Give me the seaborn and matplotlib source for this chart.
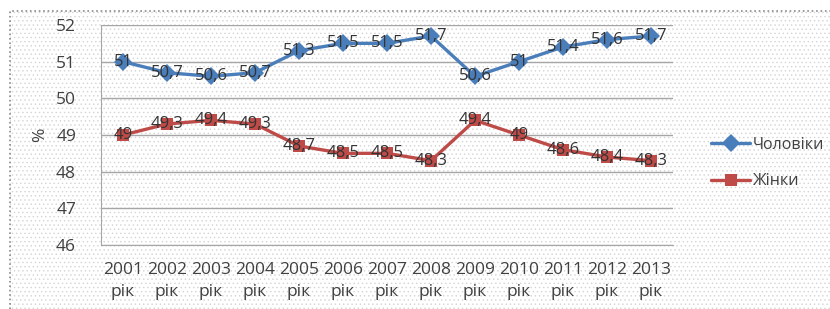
import pandas as pd
import matplotlib.pyplot as plt
import seaborn as sns
from matplotlib.patches import Rectangle

# Data
years = ['2001', '2002', '2003', '2004', '2005', '2006', '2007',
         '2008', '2009', '2010', '2011', '2012', '2013']
men = [51, 50.7, 50.6, 50.7, 51.3, 51.5, 51.5, 51.7, 50.6, 51, 51.4, 51.6, 51.7]
women = [49, 49.3, 49.4, 49.3, 48.7, 48.5, 48.5, 48.3, 49.4, 49, 48.6, 48.4, 48.3]
series_names = ['Чоловіки', 'Жінки']
tick_labels = [y + '\nрік' for y in years]

sns.set_style('white')
plt.rcParams['font.family'] = ['Open Sans', 'DejaVu Sans']
plt.rcParams['hatch.linewidth'] = 0.5

df = pd.DataFrame({'year': years * 2,
                   'value': men + women,
                   'sex': [series_names[0]] * len(years) + [series_names[1]] * len(years)})

fig = plt.figure(figsize=(8.3, 3.09), dpi=100)

# dotted background + dotted chart border
fig.patches.append(Rectangle((10 / 830, -0.05), 1.0, 1 - 11 / 309 + 0.05, transform=fig.transFigure,
                             facecolor='white', edgecolor='#d4d4d4', hatch='....', linewidth=0, zorder=-2))
fig.patches.append(Rectangle((10 / 830, -0.05), 1.0, 1 - 11 / 309 + 0.05, transform=fig.transFigure,
                             facecolor='none', edgecolor='#8a8a8a', linestyle=':', linewidth=1.2, zorder=-1))

ax = fig.add_axes([101 / 830, 1 - 245 / 309, 572 / 830, 220 / 309])
ax.patch.set_alpha(0)

colors = {'Чоловіки': '#4a7ebb', 'Жінки': '#be4b48'}
markers = {'Чоловіки': 'D', 'Жінки': 's'}
sns.lineplot(data=df, x='year', y='value', hue='sex', style='sex', palette=colors,
             markers=markers, dashes=False, markersize=9, linewidth=2.4,
             markeredgewidth=0, ax=ax, sort=False)

for vals in (men, women):
    for i, v in enumerate(vals):
        txt = ('%g' % v).replace('.', ',')
        ax.text(i, v, txt, ha='center', va='center', fontsize=12, color='#333333', zorder=5)

ax.set_xlim(-0.5, len(years) - 0.5)
ax.set_ylim(46, 52)
ax.set_yticks(range(46, 53))
ax.set_xticks(range(len(years)))
ax.set_xticklabels(tick_labels, fontsize=12.5, color='#404040', linespacing=1.55)
ax.tick_params(axis='y', labelsize=12.5, labelcolor='#404040', length=0, pad=18)
ax.tick_params(axis='x', length=0, pad=12)
ax.set_xlabel('')
ax.set_ylabel('%', fontsize=12.5, color='#404040', labelpad=6)
ax.grid(axis='y', color='#a6a6a6', linewidth=1)
ax.set_axisbelow(True)
for s in ['top', 'right']:
    ax.spines[s].set_visible(False)
for s in ['left', 'bottom']:
    ax.spines[s].set_color('#a6a6a6')

leg = ax.legend(title=None, frameon=False, loc='center left',
                bbox_to_anchor=(697 / 830, 1 - 163 / 309), bbox_transform=fig.transFigure,
                fontsize=11.5, labelspacing=1.3, handlelength=2.4, handletextpad=0.2)
for t in leg.get_texts():
    t.set_color('#404040')

fig.savefig('out.png', dpi=100)
